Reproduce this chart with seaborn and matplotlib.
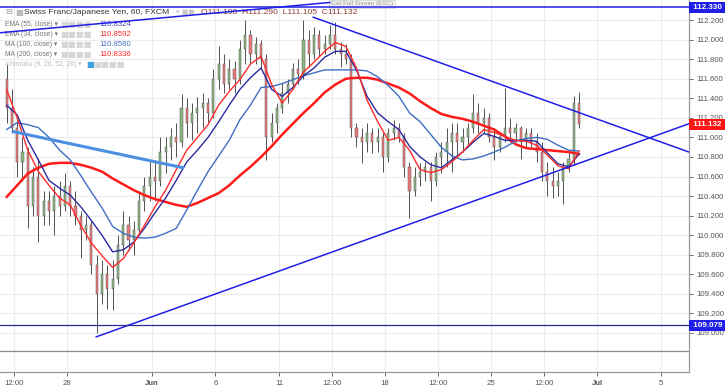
import numpy as np
import pandas as pd
import matplotlib
matplotlib.use("Agg")
import matplotlib.pyplot as plt
import matplotlib.transforms as mtransforms
import seaborn as sns

# ============================================
# Data: CHF/JPY (6h buckets)
# time axis = trading days since May 28 00:00
# ============================================

start_day = -2.85
bar_step = 0.25

opens = [111.60, 111.30, 111.10, 110.75, 110.85, 110.30, 110.60, 110.20, 110.35, 110.25,
         110.40, 110.30, 110.50, 110.30, 110.20, 110.05, 110.10, 109.70, 109.40, 109.60,
         109.45, 109.55, 109.90, 110.10, 109.95, 110.05, 110.35, 110.50, 110.60, 110.55,
         110.85, 110.90, 111.00, 110.95, 111.30, 111.15, 111.25, 111.30, 111.35, 111.25,
         111.60, 111.75, 111.55, 111.70, 111.60, 111.90, 112.05, 111.85, 111.95, 111.80,
         111.00, 111.15, 111.30, 111.45, 111.55, 111.70, 111.65, 112.00, 111.85, 112.05,
         111.90, 111.95, 112.05, 111.90, 111.85, 111.80, 111.10, 111.00, 110.95, 111.05,
         110.95, 111.00, 110.80, 111.05, 111.10, 111.00, 110.70, 110.45, 110.60, 110.65,
         110.70, 110.55, 110.80, 110.85, 110.95, 111.05, 110.95, 111.00, 111.10, 111.25,
         111.15, 111.20, 111.00, 110.90, 111.00, 111.10, 111.05, 111.10, 110.95, 111.05,
         110.95, 110.85, 110.65, 110.55, 110.50, 110.55, 110.70, 110.78, 111.35]

highs = [111.75, 111.50, 111.20, 111.00, 110.90, 110.70, 110.79, 110.45, 110.45, 110.50,
         110.55, 110.64, 110.55, 110.45, 110.25, 110.20, 110.15, 109.80, 109.75, 109.70,
         109.75, 110.00, 110.25, 110.20, 110.15, 110.45, 110.60, 110.75, 110.77, 111.00,
         111.00, 111.10, 111.15, 111.44, 111.40, 111.35, 111.41, 111.45, 111.40, 111.70,
         111.93, 111.85, 111.80, 111.78, 112.00, 112.20, 112.10, 112.03, 112.00, 111.85,
         111.25, 111.35, 111.56, 111.60, 111.76, 111.80, 112.20, 112.10, 112.13, 112.10,
         112.05, 112.15, 112.18, 111.98, 111.95, 111.85, 111.15, 111.10, 111.15, 111.10,
         111.10, 111.05, 111.10, 111.18, 111.15, 111.05, 110.75, 110.70, 110.74, 110.75,
         110.75, 110.85, 110.95, 111.10, 111.15, 111.15, 111.10, 111.15, 111.44, 111.35,
         111.30, 111.25, 111.10, 111.05, 111.51, 111.20, 111.15, 111.12, 111.10, 111.10,
         111.05, 110.95, 110.75, 110.70, 110.65, 110.75, 110.84, 111.42, 111.46]

lows = [111.15, 111.05, 110.60, 110.55, 110.07, 110.20, 109.93, 110.10, 110.10, 110.00,
        110.20, 110.25, 110.20, 110.10, 109.77, 109.95, 109.60, 109.00, 109.30, 109.25,
        109.23, 109.50, 109.80, 109.85, 109.80, 110.00, 110.25, 110.35, 110.35, 110.50,
        110.64, 110.77, 110.80, 110.90, 111.00, 110.97, 111.05, 111.10, 111.15, 111.20,
        111.50, 111.45, 111.50, 111.45, 111.55, 111.75, 111.76, 111.75, 111.70, 110.77,
        110.95, 111.05, 111.25, 111.35, 111.50, 111.55, 111.60, 111.72, 111.80, 111.83,
        111.85, 111.90, 111.85, 111.72, 111.75, 111.00, 110.90, 110.74, 110.85, 110.84,
        110.85, 110.65, 110.75, 110.97, 110.95, 110.60, 110.18, 110.40, 110.50, 110.55,
        110.35, 110.50, 110.64, 110.70, 110.65, 110.80, 110.85, 110.90, 111.05, 111.05,
        111.05, 110.95, 110.77, 110.85, 110.95, 110.95, 110.95, 110.78, 110.90, 110.90,
        110.75, 110.55, 110.40, 110.38, 110.40, 110.32, 110.65, 110.72, 111.10]

closes = [111.30, 111.10, 110.75, 110.85, 110.30, 110.60, 110.20, 110.35, 110.25, 110.40,
          110.30, 110.50, 110.30, 110.20, 110.05, 110.10, 109.70, 109.40, 109.60, 109.45,
          109.55, 109.90, 110.10, 109.95, 110.05, 110.35, 110.50, 110.60, 110.55, 110.85,
          110.90, 111.00, 110.95, 111.30, 111.15, 111.25, 111.30, 111.35, 111.25, 111.60,
          111.75, 111.55, 111.70, 111.60, 111.90, 112.05, 111.85, 111.95, 111.80, 111.00,
          111.15, 111.30, 111.45, 111.55, 111.70, 111.65, 112.00, 111.85, 112.05, 111.90,
          111.95, 112.05, 111.90, 111.85, 111.80, 111.10, 111.00, 110.95, 111.05, 110.95,
          111.00, 110.80, 111.05, 111.10, 111.00, 110.70, 110.45, 110.60, 110.65, 110.70,
          110.55, 110.80, 110.85, 110.95, 111.05, 110.95, 111.00, 111.10, 111.25, 111.15,
          111.20, 111.00, 110.90, 111.00, 111.10, 111.05, 111.10, 110.95, 111.05, 110.95,
          110.85, 110.65, 110.55, 110.50, 110.55, 110.70, 110.78, 111.35, 111.132]

# moving averages, read every second bar
ema55 = [111.33, 111.23, 110.97, 110.77, 110.56, 110.48, 110.41, 110.29, 110.15, 110.00,
         109.83, 109.85, 109.93, 110.07, 110.23, 110.38, 110.56, 110.75, 110.87, 111.00,
         111.16, 111.33, 111.49, 111.61, 111.71, 111.49, 111.42, 111.51, 111.63, 111.71,
         111.82, 111.88, 111.88, 111.69, 111.42, 111.25, 111.16, 111.08, 110.91, 110.80,
         110.72, 110.69, 110.77, 110.85, 110.95, 111.04, 111.01, 110.97, 110.97, 110.97,
         110.96, 110.84, 110.73, 110.70, 110.83]
ema34 = [111.49, 111.20, 110.87, 110.65, 110.51, 110.38, 110.31, 110.10, 109.92, 109.79,
         109.67, 109.76, 109.92, 110.10, 110.29, 110.46, 110.67, 110.87, 111.00, 111.13,
         111.33, 111.47, 111.59, 111.75, 111.83, 111.54, 111.35, 111.49, 111.67, 111.77,
         111.88, 111.97, 111.93, 111.71, 111.38, 111.16, 110.97, 111.00, 110.87, 110.67,
         110.64, 110.67, 110.75, 110.85, 110.97, 111.08, 111.05, 111.01, 110.97, 110.96,
         110.92, 110.82, 110.71, 110.68, 110.86]
ma100 = [111.08, 111.15, 111.13, 111.10, 111.00, 110.87, 110.77, 110.61, 110.44, 110.28,
         110.09, 110.02, 109.98, 109.97, 109.98, 110.02, 110.07, 110.26, 110.46, 110.65,
         110.81, 110.97, 111.18, 111.33, 111.51, 111.52, 111.55, 111.59, 111.63, 111.66,
         111.69, 111.69, 111.69, 111.69, 111.68, 111.62, 111.53, 111.42, 111.25, 111.16,
         111.03, 110.90, 110.81, 110.77, 110.78, 110.81, 110.85, 110.90, 110.96, 110.99,
         111.00, 110.98, 110.92, 110.87, 110.86]
ma200 = [110.39, 110.51, 110.63, 110.69, 110.73, 110.74, 110.74, 110.72, 110.69, 110.65,
         110.58, 110.52, 110.46, 110.41, 110.37, 110.34, 110.31, 110.29, 110.33, 110.38,
         110.43, 110.51, 110.61, 110.70, 110.80, 110.91, 111.03, 111.14, 111.25, 111.35,
         111.46, 111.54, 111.60, 111.61, 111.61, 111.59, 111.55, 111.51, 111.45, 111.37,
         111.30, 111.24, 111.21, 111.19, 111.16, 111.12, 111.08, 111.01, 110.93, 110.89,
         110.88, 110.87, 110.86, 110.85, 110.83]

# drawn lines (day, price)
asc_days = [1.37, 29.33]
asc_prices = [108.96, 111.14]
desc_days = [11.60, 29.33]
desc_prices = [112.23, 110.85]
old_days = [-2.55, 5.47]
old_prices = [111.06, 110.69]
top_days = [-3.16, 12.40]
top_prices = [112.07, 112.38]
level_high = 112.330
level_low = 109.079
last_price = 111.132

tick_days = [-2.5, 0, 4, 7, 10, 12.5, 15, 17.5, 20, 22.5, 25, 28]
tick_labels = ['12:00', '28', 'Jun', '6', '11', '12:00', '18', '12:00', '25', '12:00', 'Jul', '5']
price_ticks = [109.0, 109.2, 109.4, 109.6, 109.8, 110.0, 110.2, 110.4, 110.6,
               110.8, 111.0, 111.2, 111.4, 111.6, 111.8, 112.0, 112.2]

legend_names = ['EMA (55, close)', 'EMA (34, close)', 'MA (100, close)', 'MA (200, close)']
legend_values = ['110.8324', '110.8592', '110.8580', '110.8336']

# ============================================
# Build frames
# ============================================

bars = pd.DataFrame({'open': opens, 'high': highs, 'low': lows, 'close': closes})
bars['day'] = start_day + bar_step * np.arange(len(bars))
bars['up'] = bars['close'] >= bars['open']

ma = pd.DataFrame({'day': bars['day'].values[::2],
                   'ema55': ema55, 'ema34': ema34, 'ma100': ma100, 'ma200': ma200})

# ============================================
# Plot
# ============================================

sns.set_theme(style="white")
plt.rcParams['font.family'] = ['Liberation Sans', 'DejaVu Sans']

fig = plt.figure(figsize=(7.25, 3.92), dpi=100)
ax = fig.add_axes([0, 1 - 372 / 392, 689 / 725, 372 / 392])

ax.set_xlim(-3.16, 29.33)
ax.set_ylim(108.601, 112.405)

# grid
for d in tick_days:
    ax.axvline(d, color='#ececec', lw=0.8, zorder=0)
for p in price_ticks:
    ax.axhline(p, color='#ececec', lw=0.8, zorder=0)

# candles
ax.vlines(bars['day'], bars['low'], bars['high'], color='#505050', lw=0.7, zorder=2)
body_low = bars[['open', 'close']].min(axis=1)
body_h = (bars['close'] - bars['open']).abs().clip(lower=0.01)
ax.bar(bars['day'], body_h, bottom=body_low, width=0.1,
       color=np.where(bars['up'], '#8cb884', '#f07a7a'),
       edgecolor='#555555', linewidth=0.35, zorder=3)

# moving averages
sns.lineplot(data=ma, x='day', y='ma200', ax=ax, color='#ff1a1a', lw=1.8, zorder=4)
sns.lineplot(data=ma, x='day', y='ma100', ax=ax, color='#3f6fc4', lw=1.0, zorder=4)
sns.lineplot(data=ma, x='day', y='ema55', ax=ax, color='#2b2ba0', lw=1.0, zorder=4)
sns.lineplot(data=ma, x='day', y='ema34', ax=ax, color='#ff2a2a', lw=1.0, zorder=4)

# drawings
ax.plot(old_days, old_prices, color='#4a8fe0', lw=2.2, zorder=5)
ax.plot(asc_days, asc_prices, color='#1f1fe8', lw=1.1, zorder=5)
ax.plot(desc_days, desc_prices, color='#1f1fe8', lw=1.1, zorder=5)
ax.plot(top_days, top_prices, color='#1f1fe8', lw=1.1, zorder=5)
ax.axhline(level_high, color='#1f1fe8', lw=1.1, zorder=5)
ax.axhline(level_low, color='#2a2a9a', lw=0.9, zorder=5)
ax.axhline(108.82, color='#8c8c8c', lw=0.9, zorder=5)

# axes styling
ax.set_xlabel('')
ax.set_ylabel('')
for s in ['left', 'top']:
    ax.spines[s].set_visible(False)
for s in ['right', 'bottom']:
    ax.spines[s].set_color('#9a9a9a')
    ax.spines[s].set_linewidth(0.9)

ax.yaxis.tick_right()
ax.set_yticks(price_ticks)
ax.set_yticklabels([f'{p:.3f}' for p in price_ticks])
ax.set_xticks(tick_days)
ax.set_xticklabels(tick_labels)
ax.tick_params(axis='y', labelsize=5.6, colors='#555555', length=3, width=0.6, pad=2,
               right=True, left=False)
ax.tick_params(axis='x', labelsize=5.6, colors='#555555', length=3, width=0.6, pad=3,
               bottom=True)
for lab in ax.get_xticklabels():
    if lab.get_text() in ('Jun', 'Jul'):
        lab.set_fontweight('bold')

# price labels on the axis
trans = mtransforms.blended_transform_factory(ax.transAxes, ax.transData)
for val, col in [(level_high, '#1f1fe8'), (last_price, '#ff1414'), (level_low, '#1f1fe8')]:
    ax.text(1.003, val, f' {val:.3f} ', transform=trans, ha='left', va='center',
            fontsize=5.8, color='white', fontweight='bold', zorder=10, clip_on=False,
            bbox=dict(boxstyle='square,pad=0.25', facecolor=col, edgecolor='none'))

# header / legend
def px(x, y):
    return x / 689, 1 - y / 372

ax.text(*px(5, 12), '\u229f', transform=ax.transAxes, fontsize=6, color='#999999',
        va='center', family='DejaVu Sans')
ax.text(*px(15, 12), '\u25a0', transform=ax.transAxes, fontsize=6, color='#bbbbbb',
        va='center', family='DejaVu Sans')
ax.text(*px(24, 12), 'Swiss Franc/Japanese Yen, 60, FXCM', transform=ax.transAxes,
        fontsize=6.1, color='#333333', va='center')
ax.text(*px(176, 12), '\u25be \u25a0\u25a0', transform=ax.transAxes, fontsize=5,
        color='#c8c8c8', va='center', family='DejaVu Sans')
ax.text(*px(201, 12), 'O111.198  H111.290  L111.105  C111.132', transform=ax.transAxes,
        fontsize=6.1, color='#8a3a30', va='center')
ax.text(*px(362, 4), 'Exit Full Screen (ESC)', transform=ax.transAxes, fontsize=4.5,
        color='#999999', ha='center', va='center',
        bbox=dict(boxstyle='square,pad=0.3', facecolor='#f2f2f2', edgecolor='#d0d0d0', lw=0.5))

value_colors = ['#4848c8', '#ff2a2a', '#4a74c4', '#ff2a2a']
row_y = [24, 34, 44, 54]
for name, val, col, y in zip(legend_names, legend_values, value_colors, row_y):
    ax.text(*px(5, y), name + ' \u25be', transform=ax.transAxes, fontsize=4.9,
            color='#777777', va='center')
    ax.text(*px(60, y), '\u25a0\u25a0\u25a0\u25a0', transform=ax.transAxes, fontsize=6,
            color='#d6d6d6', va='center', family='DejaVu Sans')
    ax.text(*px(99, y), val, transform=ax.transAxes, fontsize=5.6, color=col, va='center')

ax.text(*px(5, 65), 'Ichimoku (9, 26, 52, 26) \u25be', transform=ax.transAxes, fontsize=4.9,
        color='#bdbdbd', va='center')
ax.text(*px(86, 65), '\u25a0', transform=ax.transAxes, fontsize=6, color='#3fa0e0',
        va='center', family='DejaVu Sans')
ax.text(*px(93, 65), '\u25a0\u25a0\u25a0\u25a0', transform=ax.transAxes, fontsize=6,
        color='#d6d6d6', va='center', family='DejaVu Sans')

plt.savefig("out.png", dpi=100)
